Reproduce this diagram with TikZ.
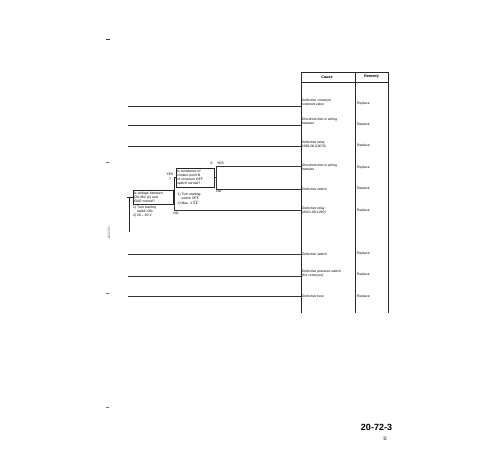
\documentclass[tikz,border=0pt]{standalone}
\usepackage{fontspec}
\setmainfont{Liberation Sans}
\newfontfamily\dejavu{DejaVu Sans}
\begin{document}
\begin{tikzpicture}[x=1pt,y=-1pt,
  tiny/.style={font=\fontsize{3.4}{4}\selectfont, inner sep=0pt},
  cause/.style={tiny, anchor=west, align=left},
  remedy/.style={tiny, anchor=west},
  head/.style={font=\fontsize{3.8}{4.2}\selectfont\bfseries, inner sep=0pt},
  qbox/.style={draw=black!85, line width=0.5pt, tiny, align=left, inner sep=1.2pt, anchor=center},
  note/.style={tiny, align=left, anchor=north west},
  lbl/.style={tiny, anchor=center},
  rowline/.style={draw=black!80, line width=0.6pt},
  flow/.style={draw=black!85, line width=0.55pt},
  tbl/.style={draw=black!85, line width=0.55pt},
  margmark/.style={draw=black!55, line width=0.8pt}
]
\useasboundingbox (0,0) rectangle (500,450);

% ---------- table frame ----------
\draw[tbl] (301,72) -- (388,72);
\draw[tbl] (301,82) -- (388,82);
\draw[tbl] (301,72) -- (301,313);
\draw[tbl] (355,72) -- (355,313);
\draw[tbl] (388,72) -- (388,313);
\node[head] (hc) at (327,77) {Cause};
\node[head] (hr) at (371.5,77) {Remedy};

% ---------- causes and remedies ----------
\node[cause] (c1) at (302,102) {Defective conveyor\\solenoid valve};
\node[remedy] (r1) at (357,104) {Replace};
\node[cause] (c2) at (302,121.5) {Disconnection in wiring\\harness};
\node[remedy] (r2) at (357,125) {Replace};
\node[cause] (c3) at (302,145) {Defective relay\\(S69-06-01670)};
\node[remedy] (r3) at (357,146) {Replace};
\node[cause] (c4) at (302,167.5) {Disconnection in wiring\\harness};
\node[remedy] (r4) at (357,168) {Replace};
\node[cause] (c5) at (302,189) {Defective switch};
\node[remedy] (r5) at (357,189) {Replace};
\node[cause] (c6) at (302,210.5) {Defective relay\\(8321-08-1290)};
\node[remedy] (r6) at (357,211) {Replace};
\node[cause] (c7) at (302,254) {Defective switch};
\node[remedy] (r7) at (357,254) {Replace};
\node[cause] (c8) at (302,274) {Defective pressure switch\\(for conveyor)};
\node[remedy] (r8) at (357,275) {Replace};
\node[cause] (c9) at (302,296.5) {Defective fuse};
\node[remedy] (r9) at (357,296.5) {Replace};

% row end points on the table border
\coordinate (t1) at (301,106);
\coordinate (t2) at (301,125);
\coordinate (t3) at (301,146);
\coordinate (t4) at (301,166.5);
\coordinate (t5) at (301,189);
\coordinate (t6) at (301,210.5);
\coordinate (t7) at (301,254);
\coordinate (t8) at (301,276);
\coordinate (t9) at (301,296.5);
% free left ends
\coordinate (l1) at (128,106);
\coordinate (l2) at (128,125);
\coordinate (l3) at (128,146);
\coordinate (l7) at (128,254);
\coordinate (l8) at (128,276);
\coordinate (l9) at (128,296.5);

\draw[rowline] (l1) -- (t1);
\draw[rowline] (l2) -- (t2);
\draw[rowline] (l3) -- (t3);
\draw[rowline] (l7) -- (t7);
\draw[rowline] (l8) -- (t8);
\draw[rowline] (l9) -- (t9);

% ---------- flow chart ----------
\node[qbox, text width=38pt, minimum height=14pt] (b1) at (153,197)
  {Is voltage between\\CN-384 (4) and\\GND normal?};
\node[qbox, text width=35.8pt, minimum height=19pt] (b2) at (195.2,177.5)
  {Is resistance of\\contact point B\\of conveyor OFF\\switch normal?};

\node[note] (n1) at (133,205.5) {1) Turn starting\\\phantom{1) }switch ON.\\2) 20 -- 30 V};
\node[note] (n2) at (177.5,192.5) {1) Turn starting\\\phantom{1) }switch OFF.\\2) Max. 1 $\Omega$};

% input line
\coordinate (in) at (129,232);
\coordinate (tk) at (127,197);
\draw[flow] (in) -- (in |- b1.west);
\draw[flow] (tk) -- (b1.west);

% box 1 branches
\coordinate (j1) at (174,197);
\draw[flow] (b1.east) -- (j1);
\draw[flow] (j1) |- (b2.west);
\draw[rowline] (j1) |- (t6);
\node[lbl] (y1) at (170,174) {YES};
\node[lbl] (s7) at (170,179) {7};
\node[lbl] (no1) at (176,213.5) {NO};

% box 2 branches
\coordinate (j2) at (216,177.5);
\draw[flow] (b2.east) -- (j2);
\draw[rowline] (j2) |- (t4);
\draw[rowline] (j2) |- (t5);
\node[lbl] (s8) at (211.5,163.3) {8};
\node[lbl] (y2) at (220.5,163.3) {YES};
\node[lbl] (no2) at (219,191.8) {NO};

% ---------- margin marks ----------
\draw[margmark, draw=black!80, line width=1pt] (106,39.5) -- (110,39.5);
\draw[margmark] (105.5,162) -- (108.5,162);
\node[tiny, rotate=90, text=black!60] (code) at (109,232.5) {B22101};
\draw[margmark] (105.5,293) -- (108.5,293);
\draw[margmark] (105.5,407) -- (108.5,407);

% ---------- page number ----------
\node[font=\fontsize{9}{10}\selectfont\bfseries, inner sep=0pt] (pg) at (376.5,427) {20-72-3};
\node[font=\dejavu\fontsize{5}{6}\selectfont, inner sep=0pt] (pgc) at (385,439) {①};
\end{tikzpicture}
\end{document}
